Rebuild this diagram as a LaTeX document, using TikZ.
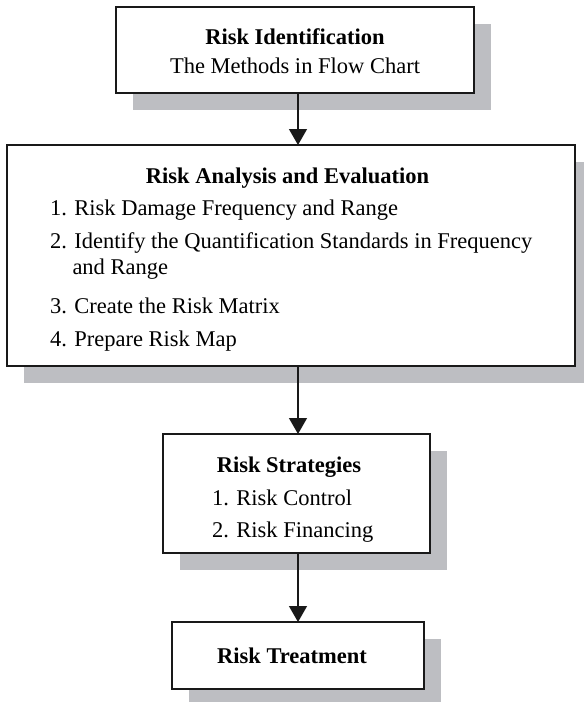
\documentclass[tikz,border=0pt]{standalone}
\usepackage{fontspec}
\setmainfont{Liberation Serif}
\usetikzlibrary{arrows.meta,shadows}
\definecolor{shadowgray}{RGB}{189,190,194}
\tikzset{
  boxnode/.style={draw=black!90,line width=1.2pt,fill=white,inner sep=0pt,outer sep=0pt,
    drop shadow={shadow xshift=17pt,shadow yshift=-17pt,fill=shadowgray,opacity=1}},
  txt/.style={inner sep=0pt,outer sep=0pt,font=\fontsize{22.5}{27}\selectfont},
  ttl/.style={txt,font=\fontsize{22.5}{27}\selectfont\bfseries},
  arr/.style={line width=1.2pt,draw=black!90,-{Triangle[width=18pt,length=16pt]}}
}
\begin{document}
\begin{tikzpicture}[x=1pt,y=-1pt]
\useasboundingbox (0,0) rectangle (584,702);
\clip (0,0) rectangle (584,702);
\fill[white] (0,0) rectangle (584,702);
\coordinate (ax) at (298,0);
% boxes
\node[boxnode,minimum width=358pt,minimum height=86pt] (b1) at (295,50) {};
\node[boxnode,minimum width=568pt,minimum height=221pt] (b2) at (291,255.5) {};
\node[boxnode,minimum width=267pt,minimum height=119pt] (b3) at (296.5,493.5) {};
\node[boxnode,minimum width=252pt,minimum height=67pt] (b4) at (298,655.5) {};
% texts box 1
\node[ttl,anchor=base] (t1a) at (295,44) {Risk Identification};
\node[txt,anchor=base] (t1b) at (295,73) {The Methods in Flow Chart};
% texts box 2
\node[ttl,anchor=base] (t2a) at (287.5,183) {Risk Analysis and Evaluation};
\node[txt,anchor=base west] (t2b) at (50,215) {1. Risk Damage Frequency and Range};
\node[txt,anchor=base west] (t2c) at (50,248) {2. Identify the Quantification Standards in Frequency};
\node[txt,anchor=base west] (t2d) at (72.5,274) {and Range};
\node[txt,anchor=base west] (t2e) at (50,313) {3. Create the Risk Matrix};
\node[txt,anchor=base west] (t2f) at (50,346) {4. Prepare Risk Map};
% texts box 3
\node[ttl,anchor=base] (t3a) at (289,472) {Risk Strategies};
\node[txt,anchor=base west] (t3b) at (212,505) {1. Risk Control};
\node[txt,anchor=base west] (t3c) at (212,537) {2. Risk Financing};
% texts box 4
\node[ttl,anchor=base] (t4a) at (292,663) {Risk Treatment};
% arrows
\draw[arr] (b1.south -| ax) -- (b2.north -| ax);
\draw[arr] (b2.south -| ax) -- (b3.north -| ax);
\draw[arr] (b3.south -| ax) -- (b4.north -| ax);
\end{tikzpicture}
\end{document}
